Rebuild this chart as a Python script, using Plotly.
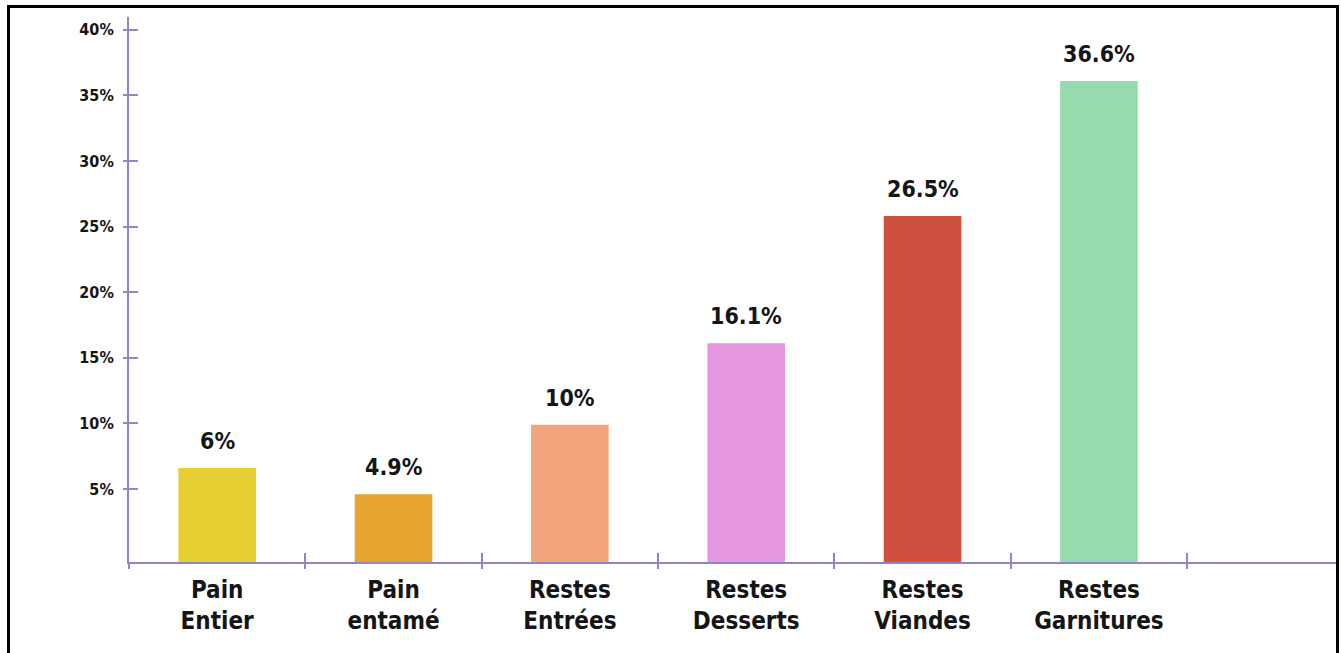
import plotly.graph_objects as go

# ---- data ----
categories = ["Pain<br>Entier", "Pain<br>entamé", "Restes<br>Entrées",
              "Restes<br>Desserts", "Restes<br>Viandes", "Restes<br>Garnitures"]
bar_heights = [6.6, 4.6, 9.9, 16.1, 25.8, 36.1]      # bar tops as drawn (%)
value_labels = ["6%", "4.9%", "10%", "16.1%", "26.5%", "36.6%"]
bar_colors = ["#E6CF2E", "#E8A430", "#F3A67E", "#E598E0", "#CF503F", "#94DBAE"]
y_tick_values = [5, 10, 15, 20, 25, 30, 35, 40]
y_tick_labels = ["5%", "10%", "15%", "20%", "25%", "30%", "35%", "40%"]

# ---- style ----
Y_MIN, Y_MAX = -0.56, 40.97
X_MIN, X_MAX = -0.5, 6.35
AXIS_COLOR = "#8F86C8"
FONT = "DejaVu Sans Condensed, Liberation Sans Narrow, sans-serif"
W, H = 1341, 653
ML, MR, MT, MB = 129, 4, 17, 91

fig = go.Figure()
fig.add_trace(go.Bar(
    x=categories,
    y=[v - Y_MIN for v in bar_heights],
    base=Y_MIN,
    width=0.44,
    marker=dict(color=bar_colors, line=dict(width=0)),
    hoverinfo="skip",
    showlegend=False,
))
# empty trace to register overlay axes (for crossing tick marks)
fig.add_trace(go.Scatter(x=[None], y=[None], xaxis="x2", yaxis="y2",
                         showlegend=False, hoverinfo="skip"))

for cat, h, lab in zip(categories, bar_heights, value_labels):
    fig.add_annotation(x=cat, y=h, text=f"<b>{lab}</b>", showarrow=False,
                       yanchor="bottom", yshift=12,
                       font=dict(family=FONT, size=23, color="#151515"))

pw = W - ML - MR
ph = H - MT - MB
fig.add_shape(type="rect", xref="paper", yref="paper",
              x0=(8.5 - ML) / pw, x1=(1337.5 - ML) / pw,
              y0=-(H + 20 - (H - MB)) / ph, y1=(H - MB - 6.5) / ph,
              line=dict(color="#000000", width=3), fillcolor="rgba(0,0,0,0)",
              layer="above")

fig.update_layout(
    width=W, height=H,
    margin=dict(l=ML, r=MR, t=MT, b=MB, pad=0),
    paper_bgcolor="white", plot_bgcolor="white",
    bargap=0.56,
    xaxis=dict(type="category", range=[X_MIN, X_MAX], tickson="boundaries",
               tickmode="array", tickvals=categories,
               ticktext=[f"<b>{c}</b>" for c in categories],
               ticks="outside", ticklen=5, tickwidth=2, tickcolor=AXIS_COLOR,
               showline=True, linecolor=AXIS_COLOR, linewidth=2,
               showgrid=False, zeroline=False, fixedrange=True,
               tickfont=dict(family=FONT, size=24, color="#151515"),
               ticklabelstandoff=5),
    yaxis=dict(range=[Y_MIN, Y_MAX], tickvals=y_tick_values,
               ticktext=[f"<b>{t}</b>" for t in y_tick_labels],
               ticks="outside", ticklen=4, tickwidth=2, tickcolor=AXIS_COLOR,
               showline=True, linecolor=AXIS_COLOR, linewidth=2,
               showgrid=False, zeroline=False,
               tickfont=dict(family=FONT, size=16, color="#151515"),
               ticklabelstandoff=6),
    xaxis2=dict(overlaying="x", range=[X_MIN, X_MAX], type="linear",
                tickvals=[0.5, 1.5, 2.5, 3.5, 4.5, 5.5],
                ticks="inside", ticklen=9, tickwidth=2, tickcolor=AXIS_COLOR,
                showticklabels=False, showline=False, showgrid=False,
                zeroline=False, anchor="y2", side="bottom"),
    yaxis2=dict(overlaying="y", range=[Y_MIN, Y_MAX], tickvals=y_tick_values,
                ticks="inside", ticklen=9, tickwidth=2, tickcolor=AXIS_COLOR,
                showticklabels=False, showline=False, showgrid=False,
                zeroline=False, anchor="x2", side="left"),
)

fig.write_html("out.html", config={"displayModeBar": False},
               post_script="document.body.style.margin='0';document.body.style.overflow='hidden';")
